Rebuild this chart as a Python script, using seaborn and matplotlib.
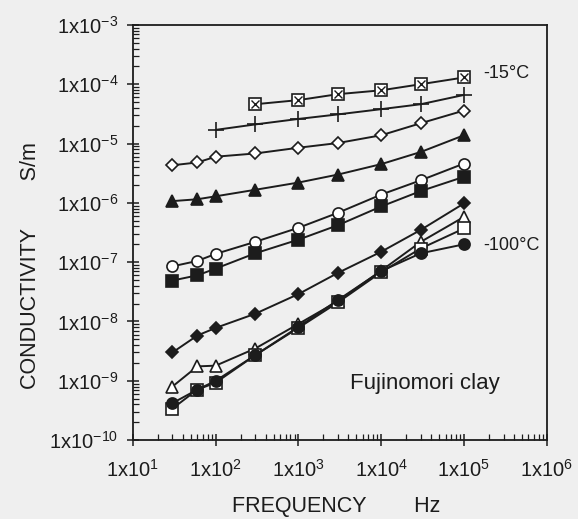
import numpy as np
import matplotlib
matplotlib.use("Agg")
import matplotlib.pyplot as plt
import matplotlib.ticker as mticker
import seaborn as sns

# frequencies (Hz)
freq = [30, 60, 100, 300, 1000, 3000, 10000, 30000, 100000]

# conductivity (S/m), top curve = -15 C, bottom curve = -100 C
s_boxx = [4.6e-5, 5.4e-5, 6.8e-5, 7.9e-5, 1.0e-4, 1.3e-4]          # from 300 Hz
s_plus = [1.7e-5, 2.1e-5, 2.6e-5, 3.1e-5, 3.8e-5, 4.6e-5, 6.6e-5]  # from 100 Hz
s_odia = [4.3e-6, 4.8e-6, 6.0e-6, 6.8e-6, 8.5e-6, 1.02e-5, 1.38e-5, 2.2e-5, 3.6e-5]
s_ftri = [1.07e-6, 1.15e-6, 1.29e-6, 1.66e-6, 2.2e-6, 3.0e-6, 4.5e-6, 7.2e-6, 1.38e-5]
s_ocir = [8.5e-8, 1.05e-7, 1.38e-7, 2.2e-7, 3.8e-7, 6.8e-7, 1.38e-6, 2.4e-6, 4.6e-6]
s_fsq = [4.9e-8, 6.0e-8, 7.8e-8, 1.41e-7, 2.4e-7, 4.2e-7, 8.7e-7, 1.58e-6, 2.75e-6]
s_fdia = [3.0e-9, 5.8e-9, 7.8e-9, 1.35e-8, 2.9e-8, 6.6e-8, 1.5e-7, 3.5e-7, 9.8e-7]
s_otri = [8.0e-10, 1.75e-9, 1.8e-9, 3.5e-9, 9.1e-9, 2.2e-8, 7.2e-8, 2.2e-7, 5.8e-7]
s_osq = [3.4e-10, 7.1e-10, 9.3e-10, 2.7e-9, 7.8e-9, 2.1e-8, 6.8e-8, 1.7e-7, 3.7e-7]
s_fcir = [4.2e-10, 7.1e-10, 1.0e-9, 2.7e-9, 8.1e-9, 2.3e-8, 7.1e-8, 1.41e-7, 2.0e-7]

ytick_vals = [1e-10, 1e-9, 1e-8, 1e-7, 1e-6, 1e-5, 1e-4, 1e-3]
xtick_vals = [1e1, 1e2, 1e3, 1e4, 1e5, 1e6]

sns.set_style("ticks")
plt.rcParams["font.family"] = ["Liberation Sans", "DejaVu Sans"]
plt.rcParams["mathtext.fontset"] = "custom"
plt.rcParams["mathtext.rm"] = "Liberation Sans"
plt.rcParams["mathtext.it"] = "Liberation Sans"
ink = "#1c1c1c"
bg = "#efefef"

fig = plt.figure(figsize=(5.78, 5.19), dpi=100, facecolor=bg)
ax = fig.add_axes([0.230, 0.152, 0.716, 0.800])
ax.set_facecolor(bg)

lw = 1.4
ms = 8
series = [
    (freq[3:], s_boxx, "s", "white"),
    (freq[2:], s_plus, "+", ink),
    (freq, s_odia, "D", "white"),
    (freq, s_ftri, "^", ink),
    (freq, s_ocir, "o", "white"),
    (freq, s_fsq, "s", ink),
    (freq, s_fdia, "D", ink),
    (freq, s_otri, "^", "white"),
    (freq, s_osq, "s", "white"),
    (freq, s_fcir, "o", ink),
]
for x, y, m, fc in series:
    size = ms
    if m == "D":
        size = ms * 0.8
    elif m == "+":
        size = ms * 1.4
    sns.lineplot(x=x, y=y, ax=ax, color=ink, lw=lw, marker=m, markersize=size,
                 markerfacecolor=fc, markeredgecolor=ink, markeredgewidth=1.2,
                 zorder=3)
# cross inside the boxed squares
sns.lineplot(x=freq[3:], y=s_boxx, ax=ax, color=ink, lw=0, marker="x",
             markersize=ms * 0.65, markeredgecolor=ink, markeredgewidth=1.0, zorder=4)

ax.set_xscale("log")
ax.set_yscale("log")
ax.set_xlim(1e1, 1e6)
ax.set_ylim(1e-10, 1e-3)


def sci_fmt(v, pos):
    e = int(round(np.log10(v)))
    return r"1x10$^{%d}$" % e


ax.set_xticks(xtick_vals)
ax.set_yticks(ytick_vals)
ax.xaxis.set_major_formatter(mticker.FuncFormatter(sci_fmt))
ax.yaxis.set_major_formatter(mticker.FuncFormatter(sci_fmt))
ax.xaxis.set_minor_locator(mticker.LogLocator(base=10, subs=np.arange(2, 10)))
ax.yaxis.set_minor_locator(mticker.LogLocator(base=10, subs=np.arange(2, 10)))
ax.xaxis.set_minor_formatter(mticker.NullFormatter())
ax.yaxis.set_minor_formatter(mticker.NullFormatter())

ax.tick_params(which="major", direction="inout", length=9, width=1.1, colors=ink,
               labelsize=14.5, pad=6)
ax.tick_params(which="minor", direction="in", length=4, width=0.9, colors=ink)
ax.tick_params(axis="x", which="major", pad=9)
for sp in ax.spines.values():
    sp.set_color(ink)
    sp.set_linewidth(1.3)

ax.set_xlabel("FREQUENCY        Hz", fontsize=15.5, color=ink)
ax.set_ylabel("CONDUCTIVITY        S/m", fontsize=15.5, color=ink)
ax.xaxis.set_label_coords(0.49, -0.135)
ax.yaxis.set_label_coords(-0.222, 0.42)

fig.text(483 / 578, 1 - 73 / 519, "-15°C", fontsize=13, color=ink, va="center")
fig.text(483 / 578, 1 - 246 / 519, "-100°C", fontsize=13, color=ink, va="center")
fig.text(350 / 578, 1 - 384 / 519, "Fujinomori clay", fontsize=16, color=ink, va="center")

fig.savefig("out.png", dpi=100, facecolor=bg)
